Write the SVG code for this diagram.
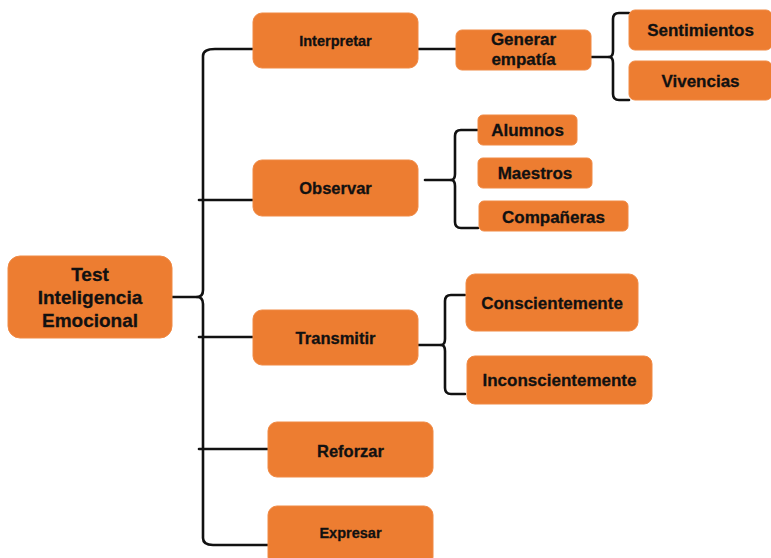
<svg xmlns="http://www.w3.org/2000/svg" width="771" height="558" viewBox="0 0 771 558">
<style>
.box{fill:#ED7D31;stroke:#F08A45;stroke-width:1}
.t{font-family:"Liberation Sans",Arial,sans-serif;font-weight:bold;fill:#111;stroke:#111;stroke-width:0.3;text-anchor:middle;font-size:17px}
.c{fill:none;stroke:#111;stroke-width:2.6;stroke-linecap:round;stroke-linejoin:round}
</style>
<rect width="771" height="558" fill="#fff"/>
<g id="connectors">
<path class="c" d="M253 49 H215 Q203 49 203 56 V290 Q203 297 197 297 Q203 297 203 304 V538 Q203 545 213 545 H268"/>
<path class="c" d="M171 297 H197"/>
<path class="c" d="M199 200 H253"/>
<path class="c" d="M199 337 H253"/>
<path class="c" d="M199 449 H268"/>
<path class="c" d="M418 49 H456"/>
<path class="c" d="M591 57 H609"/>
<path class="c" d="M629 13 H619 Q613 13 613 19 V51 Q613 57 609 57 Q613 57 613 63 V94 Q613 100 619 100 H629"/>
<path class="c" d="M425 180 H451"/>
<path class="c" d="M478 130 H461 Q455 130 455 136 V174 Q455 180 451 180 Q455 180 455 186 V222 Q455 228 461 228 H478"/>
<path class="c" d="M418 345 H441"/>
<path class="c" d="M465 295 H451 Q445 295 445 301 V339 Q445 345 441 345 Q445 345 445 351 V388 Q445 394 451 394 H465"/>
</g>
<g id="test"><rect class="box" x="8" y="256" width="164" height="82" rx="12"/>
<text class="t" style="font-size:19px"><tspan x="90" y="281">Test</tspan><tspan x="90" y="304">Inteligencia</tspan><tspan x="90" y="327">Emocional</tspan></text></g>
<g id="interpretar"><rect class="box" x="253" y="13" width="165" height="55" rx="9"/><text class="t" x="335.5" y="46" style="font-size:14.5px">Interpretar</text></g>
<g id="observar"><rect class="box" x="253" y="160" width="165" height="56" rx="9"/><text class="t" x="335.5" y="194" style="font-size:16.5px">Observar</text></g>
<g id="transmitir"><rect class="box" x="253" y="310" width="165" height="55" rx="9"/><text class="t" x="335.5" y="344" style="font-size:16.5px">Transmitir</text></g>
<g id="reforzar"><rect class="box" x="268" y="422" width="165" height="55" rx="9"/><text class="t" x="350.5" y="457" style="font-size:16.5px">Reforzar</text></g>
<g id="expresar"><rect class="box" x="268" y="506" width="165" height="60" rx="9"/><text class="t" x="350.5" y="538" style="font-size:14.5px">Expresar</text></g>
<g id="generar"><rect class="box" x="456" y="30" width="135" height="40" rx="6"/><text class="t"><tspan x="523.5" y="45">Generar</tspan><tspan x="523.5" y="65">empatía</tspan></text></g>
<g id="sentimientos"><rect class="box" x="629" y="10" width="143" height="40" rx="6"/><text class="t" x="700.5" y="36">Sentimientos</text></g>
<g id="vivencias"><rect class="box" x="629" y="61" width="143" height="39" rx="6"/><text class="t" x="700.5" y="87">Vivencias</text></g>
<g id="alumnos"><rect class="box" x="478" y="115" width="99" height="30" rx="5"/><text class="t" x="527.5" y="135.5">Alumnos</text></g>
<g id="maestros"><rect class="box" x="478" y="158" width="114" height="30" rx="5"/><text class="t" x="535" y="178.5">Maestros</text></g>
<g id="companeras"><rect class="box" x="479" y="201" width="149" height="30" rx="5"/><text class="t" x="553.5" y="222.5">Compañeras</text></g>
<g id="conscientemente"><rect class="box" x="466" y="274" width="172" height="57" rx="9"/><text class="t" x="552" y="309">Conscientemente</text></g>
<g id="inconscientemente"><rect class="box" x="467" y="356" width="185" height="48" rx="8"/><text class="t" x="559.5" y="386">Inconscientemente</text></g>
</svg>
